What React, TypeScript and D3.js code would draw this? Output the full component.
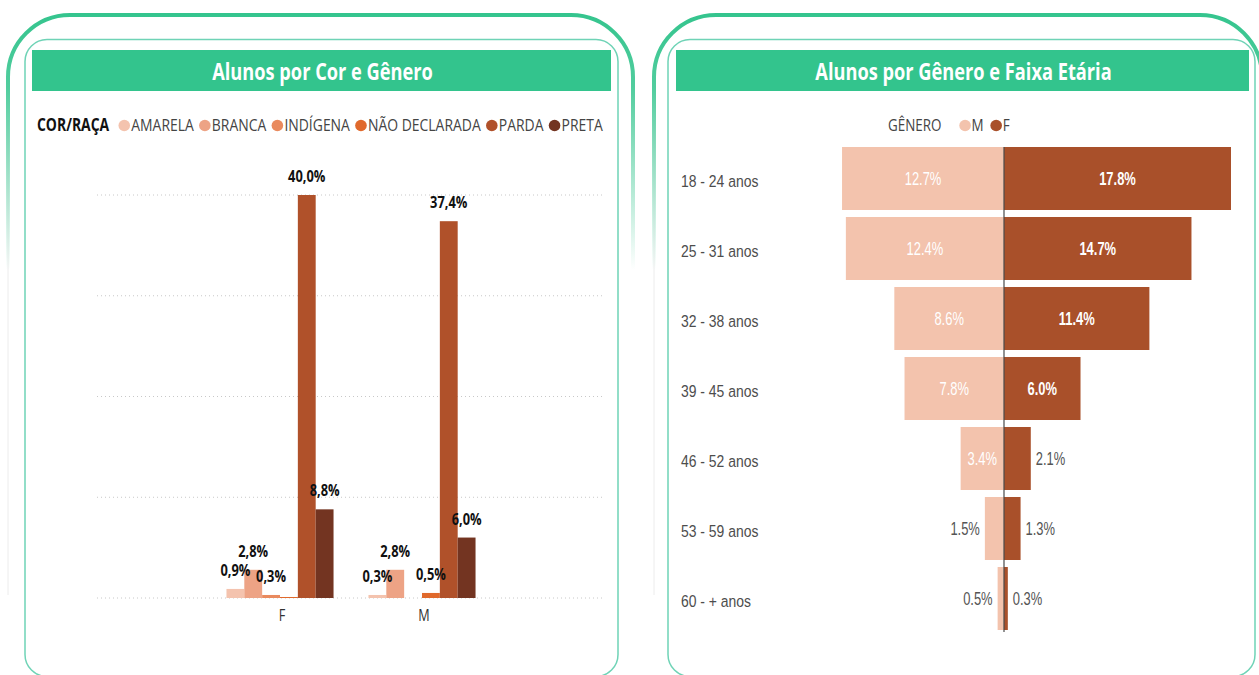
import React from "react";
import * as d3 from "d3";

// ---------- DATA ----------
const RACES = ["AMARELA", "BRANCA", "INDÍGENA", "NÃO DECLARADA", "PARDA", "PRETA"];
const GENDERS = ["F", "M"];
const F_VALUES = [0.9, 2.8, 0.3, 0.1, 40.0, 8.8];
const M_VALUES = [0.3, 2.8, 0.0, 0.5, 37.4, 6.0];
const Y_TICKS = [0, 10, 20, 30, 40];

const AGE_GROUPS = [
  "18 - 24 anos",
  "25 - 31 anos",
  "32 - 38 anos",
  "39 - 45 anos",
  "46 - 52 anos",
  "53 - 59 anos",
  "60 - + anos",
];
const PYR_M = [12.7, 12.4, 8.6, 7.8, 3.4, 1.5, 0.5];
const PYR_F = [17.8, 14.7, 11.4, 6.0, 2.1, 1.3, 0.3];
const PYR_GENDERS = ["M", "F"];

// ---------- STYLE ----------
const W = 1259;
const H = 675;
const TEAL = "#33C48D";
const TEAL_LINE = "#6FD3B6";
const RACE_COLORS = ["#F4C3AE", "#EDA385", "#E98A5E", "#E0692C", "#B0512A", "#733421"];
const PYR_COLORS: Record<string, string> = { M: "#F3C3AD", F: "#A9502A" };
const SEGOE = "'Open Sans', 'Noto Sans', sans-serif";
const ARIAL = "'Liberation Sans', Arial, sans-serif";

let _ctx: CanvasRenderingContext2D | null = null;
function textWidth(text: string, font: string): number {
  if (!_ctx) _ctx = document.createElement("canvas").getContext("2d");
  if (!_ctx) return text.length * 8;
  _ctx.font = font;
  return _ctx.measureText(text).width;
}

function CText(props: {
  x: number;
  y: number;
  sx: number;
  children: React.ReactNode;
  anchor?: string;
  size: number;
  weight?: string | number;
  fill?: string;
  family?: string;
}) {
  const { x, y, sx, children, anchor = "start", size, weight = "normal", fill = "#000", family = SEGOE } = props;
  return (
    <text
      transform={`translate(${x},${y}) scale(${sx},1)`}
      textAnchor={anchor}
      fontSize={size}
      fontWeight={weight}
      fill={fill}
      fontFamily={family}
    >
      {children}
    </text>
  );
}

function PanelFrame({ x0, x1, innerX0, innerX1, barX0, barX1, title, gid }: any) {
  const r = 62;
  const top = 15;
  const outer = `M ${x0} 270 L ${x0} ${top + r} A ${r} ${r} 0 0 1 ${x0 + r} ${top} L ${x1 - r} ${top} A ${r} ${r} 0 0 1 ${x1} ${top + r} L ${x1} 270`;
  return (
    <g>
      <defs>
        <linearGradient id={gid} gradientUnits="userSpaceOnUse" x1="0" y1="10" x2="0" y2="270">
          <stop offset="0" stopColor={TEAL} stopOpacity={1} />
          <stop offset="0.3" stopColor={TEAL} stopOpacity={0.85} />
          <stop offset="1" stopColor={TEAL} stopOpacity={0} />
        </linearGradient>
      </defs>
      <line x1={x0} x2={x0} y1={120} y2={595} stroke="#ececec" strokeWidth={1} />
      <path d={outer} fill="none" stroke={`url(#${gid})`} strokeWidth={4} />
      <rect
        x={innerX0}
        y={39.5}
        width={innerX1 - innerX0}
        height={637}
        rx={22}
        ry={22}
        fill="#fff"
        stroke={TEAL_LINE}
        strokeWidth={1.5}
      />
      <rect x={barX0} y={50} width={barX1 - barX0} height={41} fill={TEAL} />
      <CText x={(barX0 + barX1) / 2 + 1} y={80} sx={0.76} anchor="middle" size={24} weight="bold" fill="#fff">
        {title}
      </CText>
    </g>
  );
}

function LeftChart() {
  const y = d3.scaleLinear().domain([0, 40]).range([598, 195]);
  const x0 = d3.scaleBand<string>().domain(GENDERS).range([209, 493]).paddingInner(0.246).paddingOuter(0.123);
  const x1 = d3.scaleBand<string>().domain(RACES).range([0, x0.bandwidth()]);
  const fmt = (v: number) => d3.format(".1f")(v).replace(".", ",") + "%";
  const series: Record<string, number[]> = { F: F_VALUES, M: M_VALUES };

  // legend layout
  const legSx = 0.82;
  const legSize = 17;
  const legFont = `${legSize}px ${SEGOE}`;
  const legBoldFont = `bold ${legSize}px ${SEGOE}`;
  let cursor = 37;
  const titleW = textWidth("COR/RAÇA", legBoldFont) * legSx;
  cursor += titleW + 9;
  const items = RACES.map((r, i) => {
    const cx = cursor + 6;
    const tx = cursor + 13;
    const w = textWidth(r, legFont) * legSx;
    cursor = tx + w + 5;
    return { r, cx, tx, color: RACE_COLORS[i] };
  });

  return (
    <g>
      <CText x={37} y={131} sx={legSx} size={legSize} weight="bold" fill="#111">
        COR/RAÇA
      </CText>
      {items.map((it) => (
        <g key={it.r}>
          <circle cx={it.cx} cy={125.5} r={5.8} fill={it.color} />
          <CText x={it.tx} y={131} sx={legSx} size={legSize} fill="#444">
            {it.r}
          </CText>
        </g>
      ))}
      {Y_TICKS.map((t) => (
        <line
          key={t}
          x1={97}
          x2={605}
          y1={y(t)}
          y2={y(t)}
          stroke="#c8c8c8"
          strokeWidth={1}
          strokeDasharray="1,3"
        />
      ))}
      {GENDERS.map((g) => (
        <g key={g} transform={`translate(${x0(g)},0)`}>
          {RACES.map((r, i) => {
            const v = series[g][i];
            return (
              <rect
                key={r}
                x={x1(r)}
                y={y(v)}
                width={x1.bandwidth()}
                height={y(0) - y(v)}
                fill={RACE_COLORS[i]}
              />
            );
          })}
        </g>
      ))}
      {GENDERS.map((g) => (
        <g key={g + "l"} transform={`translate(${x0(g)},0)`}>
          {RACES.map((r, i) => {
            const v = series[g][i];
            if (v < 0.3) return null;
            return (
              <CText
                key={r}
                x={(x1(r) as number) + x1.bandwidth() / 2}
                y={y(v) - 13}
                sx={0.78}
                anchor="middle"
                size={16.5}
                weight="bold"
                fill="#111"
              >
                {fmt(v)}
              </CText>
            );
          })}
        </g>
      ))}
      {GENDERS.map((g) => (
        <CText
          key={g + "a"}
          x={(x0(g) as number) + x0.bandwidth() / 2 + 2}
          y={621}
          sx={0.82}
          anchor="middle"
          size={15.5}
          fill="#333"
        >
          {g}
        </CText>
      ))}
    </g>
  );
}

function RightChart() {
  const maxV = d3.max([...PYR_M, ...PYR_F]) as number;
  const x = d3.scaleLinear().domain([-maxV, maxV]).range([777, 1231]);
  const y = d3.scaleBand<string>().domain(AGE_GROUPS).range([143.5, 633.5]).paddingInner(0.1).paddingOuter(0.05);
  const fmt = (v: number) => d3.format(".1f")(v) + "%";
  const labSx = 0.74;
  const labSize = 17.5;

  // legend
  const legSize = 16;
  const legFont = `${legSize}px ${SEGOE}`;
  const legSx = 0.84;
  let cursor = 888;
  const gw = textWidth("GÊNERO", legFont) * legSx;
  cursor += gw + 18;
  const leg = PYR_GENDERS.map((g) => {
    const cx = cursor + 5.5;
    const tx = cursor + 12;
    cursor = tx + textWidth(g, legFont) * legSx + 7;
    return { g, cx, tx };
  });

  const lastBand = AGE_GROUPS[AGE_GROUPS.length - 1];
  return (
    <g>
      <CText x={888} y={131} sx={legSx} size={legSize} fill="#444">
        GÊNERO
      </CText>
      {leg.map((l) => (
        <g key={l.g}>
          <circle cx={l.cx} cy={125.5} r={5.8} fill={PYR_COLORS[l.g]} />
          <CText x={l.tx} y={131} sx={legSx} size={legSize} fill="#444">
            {l.g}
          </CText>
        </g>
      ))}
      {AGE_GROUPS.map((a) => (
        <CText key={a} x={681} y={(y(a) as number) + y.bandwidth() / 2 + 8.5} sx={0.82} size={17} fill="#4d4d4d" family={ARIAL}>
          {a}
        </CText>
      ))}
      {AGE_GROUPS.map((a, i) => {
        const m = PYR_M[i];
        const f = PYR_F[i];
        const yy = y(a) as number;
        const bh = y.bandwidth();
        const cy = yy + bh / 2 + 6.5;
        const mW = x(0) - x(-m);
        const fW = x(f) - x(0);
        return (
          <g key={a}>
            <rect x={x(-m)} y={yy} width={mW} height={bh} fill={PYR_COLORS.M} />
            <rect x={x(0)} y={yy} width={fW} height={bh} fill={PYR_COLORS.F} />
            {mW >= 35 ? (
              <CText x={x(-m / 2)} y={cy} sx={labSx} anchor="middle" size={labSize} fill="#fff" family={ARIAL}>
                {fmt(m)}
              </CText>
            ) : (
              <CText x={x(-m) - 5} y={cy} sx={labSx} anchor="end" size={labSize} fill="#555" family={ARIAL}>
                {fmt(m)}
              </CText>
            )}
            {fW >= 35 ? (
              <CText x={x(f / 2)} y={cy} sx={labSx} anchor="middle" size={labSize} weight="bold" fill="#fff" family={ARIAL}>
                {fmt(f)}
              </CText>
            ) : (
              <CText x={x(f) + 5} y={cy} sx={labSx} anchor="start" size={labSize} fill="#555" family={ARIAL}>
                {fmt(f)}
              </CText>
            )}
          </g>
        );
      })}
      <line
        x1={x(0)}
        x2={x(0)}
        y1={y(AGE_GROUPS[0]) as number}
        y2={(y(lastBand) as number) + y.bandwidth() + 2}
        stroke="#4a4a4a"
        strokeWidth={1.2}
      />
    </g>
  );
}

export default function App() {
  return (
    <svg
      width={W}
      height={H}
      viewBox={`0 0 ${W} ${H}`}
      style={{ position: "absolute", left: 0, top: 0, background: "#fff" }}
    >
      <rect x={0} y={0} width={W} height={H} fill="#fff" />
      <PanelFrame
        x0={8}
        x1={633}
        innerX0={25}
        innerX1={618}
        barX0={32}
        barX1={611}
        title="Alunos por Cor e Gênero"
        gid="gl"
      />
      <PanelFrame
        x0={654}
        x1={1262}
        innerX0={668}
        innerX1={1255}
        barX0={676}
        barX1={1249}
        title="Alunos por Gênero e Faixa Etária"
        gid="gr"
      />
      <LeftChart />
      <RightChart />
    </svg>
  );
}
